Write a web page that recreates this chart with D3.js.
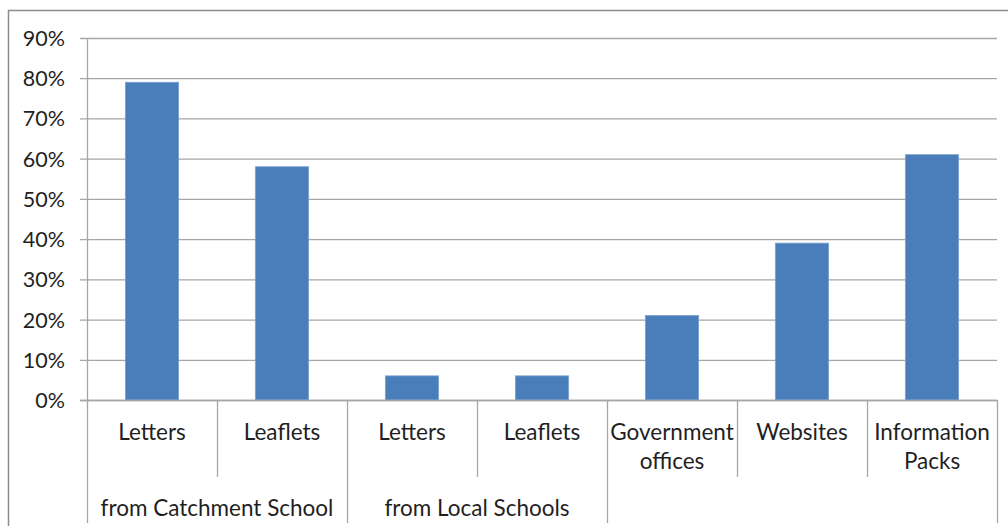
<!DOCTYPE html>
<html>
<head>
<meta charset="utf-8">
<script src="https://cdn.jsdelivr.net/npm/d3@7"></script>
<style>
  html, body { margin: 0; padding: 0; background: #fff; }
  svg { display: block; }
  text { font-family: Lato, "Open Sans", sans-serif; fill: #1f1f1f; }
</style>
</head>
<body>
<svg id="chart" width="1008" height="526"></svg>
<script>
// Sources of information (share of respondents)
const categories = ["Letters", "Leaflets", "Letters", "Leaflets", "Government offices", "Websites", "Information Packs"];
const categoryLines = [["Letters"], ["Leaflets"], ["Letters"], ["Leaflets"], ["Government", "offices"], ["Websites"], ["Information", "Packs"]];
const values = [79, 58, 6, 6, 21, 39, 61];
// Outer grouping: label, first category index, number of categories
const groups = [
  { label: "from Catchment School", start: 0, span: 2 },
  { label: "from Local Schools", start: 2, span: 2 }
];
const yTicks = [0, 10, 20, 30, 40, 50, 60, 70, 80, 90];

const svg = d3.select("#chart");
const W = 1008, H = 526;
const plot = { left: 87, right: 997, top: 38, bottom: 400 };

// Chart area frame
svg.append("path")
  .attr("d", `M8.5,${H} V10.5 H${W}`)
  .attr("fill", "none")
  .attr("stroke", "#8c8c8c")
  .attr("stroke-width", 1.5);

const x = d3.scaleBand()
  .domain(d3.range(categories.length))
  .range([plot.left, plot.right])
  .paddingInner(0)
  .paddingOuter(0);

const y = d3.scaleLinear().domain([0, 90]).range([plot.bottom, plot.top]);

// Gridlines and value axis
const tickLen = plot.right - plot.left + 7;
const yAxis = d3.axisLeft(y)
  .tickValues(yTicks)
  .tickFormat(d => d + "%")
  .tickSize(tickLen);

const gy = svg.append("g")
  .attr("transform", `translate(${plot.right},0)`)
  .call(yAxis);
gy.select(".domain").remove();
gy.selectAll(".tick line")
  .attr("stroke", "#a6a6a6")
  .attr("stroke-width", 1.3);
gy.selectAll(".tick text")
  .attr("x", -(plot.right - plot.left) - 22)
  .attr("dy", "0.35em")
  .style("font-size", "21.5px")
  .style("fill", "#1f1f1f");

// Vertical value-axis line
svg.append("line")
  .attr("x1", plot.left + 0.5).attr("x2", plot.left + 0.5)
  .attr("y1", plot.top).attr("y2", plot.bottom)
  .attr("stroke", "#a6a6a6").attr("stroke-width", 1.3);

// Bars
const barW = x.bandwidth() * 0.41;
svg.append("g").selectAll("rect")
  .data(values)
  .join("rect")
  .attr("x", (d, i) => x(i) + (x.bandwidth() - barW) / 2)
  .attr("y", d => y(d))
  .attr("width", barW)
  .attr("height", d => y(0) - y(d))
  .attr("fill", "#4a7ebb")
  .attr("stroke", "#7ea3d1")
  .attr("stroke-width", 0.8);

// Category axis baseline
svg.append("line")
  .attr("x1", plot.left - 7).attr("x2", plot.right)
  .attr("y1", y(0) + 0.5).attr("y2", y(0) + 0.5)
  .attr("stroke", "#a6a6a6").attr("stroke-width", 1.3);

// Category dividers: long at group boundaries, short within groups
const innerBottom = 477, outerBottom = 523;
const boundaries = d3.range(categories.length + 1);
const isGroupEdge = i => {
  if (i === 0 || i === categories.length) return true;
  for (const g of groups) {
    if (i === g.start || i === g.start + g.span) return true;
  }
  return false;
};
svg.append("g").selectAll("line")
  .data(boundaries)
  .join("line")
  .attr("x1", i => (i < categories.length ? x(i) : plot.right) + 0.5)
  .attr("x2", i => (i < categories.length ? x(i) : plot.right) + 0.5)
  .attr("y1", y(0))
  .attr("y2", i => isGroupEdge(i) ? outerBottom : innerBottom)
  .attr("stroke", "#a6a6a6").attr("stroke-width", 1.3);

// Category labels
const catG = svg.append("g").selectAll("text")
  .data(categoryLines)
  .join("text")
  .attr("text-anchor", "middle")
  .style("font-size", "22.5px")
  .attr("transform", (d, i) => `translate(${x(i) + x.bandwidth() / 2},0)`);
catG.selectAll("tspan")
  .data(d => d)
  .join("tspan")
  .attr("x", 0)
  .attr("y", (d, j) => 440 + j * 29)
  .text(d => d);

// Group labels
svg.append("g").selectAll("text")
  .data(groups)
  .join("text")
  .attr("text-anchor", "middle")
  .style("font-size", "22.5px")
  .attr("x", g => x(g.start) + g.span * x.bandwidth() / 2)
  .attr("y", 516)
  .text(g => g.label);
</script>
</body>
</html>
